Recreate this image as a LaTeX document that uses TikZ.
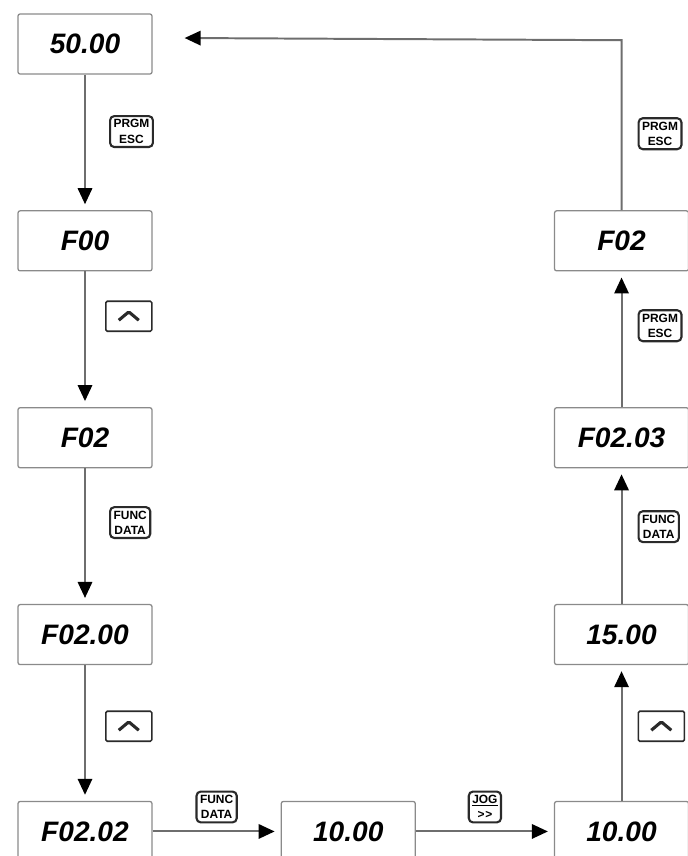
\documentclass[tikz,border=0pt]{standalone}
\usepackage{fontspec}
\setmainfont{Liberation Sans}
\usepackage{xcolor}
\usetikzlibrary{arrows.meta,positioning}
\definecolor{frame}{HTML}{8A8A8A}
\definecolor{wire}{HTML}{6E6E6E}
\definecolor{keyink}{HTML}{2A2A2A}

\begin{document}
\begin{tikzpicture}[
  lcd/.style={draw=frame,line width=0.9pt,rounded corners=1.5pt,minimum width=3.35cm,minimum height=1.5cm,font=\fontsize{20}{24}\selectfont\bfseries\itshape},
  keybtn/.style={draw=keyink,line width=1.5pt,rounded corners=3pt,inner sep=2.5pt,align=center,font=\fontsize{8.5}{11}\selectfont\bfseries},
  upkey/.style={draw=keyink,line width=1.1pt,rounded corners=1pt,minimum width=1.15cm,minimum height=0.75cm,
    path picture={\draw[-,shorten >=0pt,line width=2.2pt,keyink] ([xshift=-0.25cm,yshift=-0.1cm]path picture bounding box.center) -- ++(0.25,0.21) -- ++(0.25,-0.21);}},
  flow/.style={draw=wire,line width=1.4pt,-{Triangle[width=0.36cm,length=0.4cm,color=black]},shorten >=1.5mm},
  node distance=3.39cm]
\useasboundingbox (0,0) rectangle (17.175,21.4);
% left column
\node[lcd] (disp50) at (2.125,20.3) {50.00};
\node[lcd,below=of disp50] (f00) {F00};
\node[lcd,below=of f00] (f02) {F02};
\node[lcd,below=of f02] (f0200) {F02.00};
\node[lcd,below=of f0200] (f0202) {F02.02};
% bottom row
\node[lcd,right=3.2cm of f0202] (val10) {10.00};
\node[lcd,right=3.45cm of val10] (val10b) {10.00};
% right column
\node[lcd,above=of val10b] (val15) {15.00};
\node[lcd,above=of val15] (f0203) {F02.03};
\node[lcd,above=of f0203] (f02r) {F02};

\draw[flow] (disp50) -- node[pos=0.42,right=6mm,keybtn]{PRGM\\ESC} (f00);
\draw[flow] (f00) -- node[pos=0.33,right=5mm,upkey]{} (f02);
\draw[flow] (f02) -- node[pos=0.4,right=6mm,keybtn]{FUNC\\DATA} (f0200);
\draw[flow] (f0200) -- node[pos=0.45,right=5mm,upkey]{} (f0202);
\draw[flow] (f0202) -- node[above=2mm,keybtn]{FUNC\\DATA} (val10);
\draw[flow] (val10) -- node[above=2mm,keybtn]{\underline{JOG}\\>\kern0.6pt>} (val10b);
\draw[flow] (val10b) -- node[pos=0.55,right=4mm,upkey]{} (val15);
\draw[flow] (val15) -- node[pos=0.57,right=4mm,keybtn]{FUNC\\DATA} (f0203);
\draw[flow] (f0203) -- node[pos=0.6,right=4mm,keybtn]{PRGM\\ESC} (f02r);
\draw[flow] (f02r.north) -- node[pos=0.45,right=4mm,keybtn]{PRGM\\ESC} ++(0,4.25) -- ([xshift=6.5mm,yshift=1.5mm]disp50.east);
\end{tikzpicture}
\end{document}
